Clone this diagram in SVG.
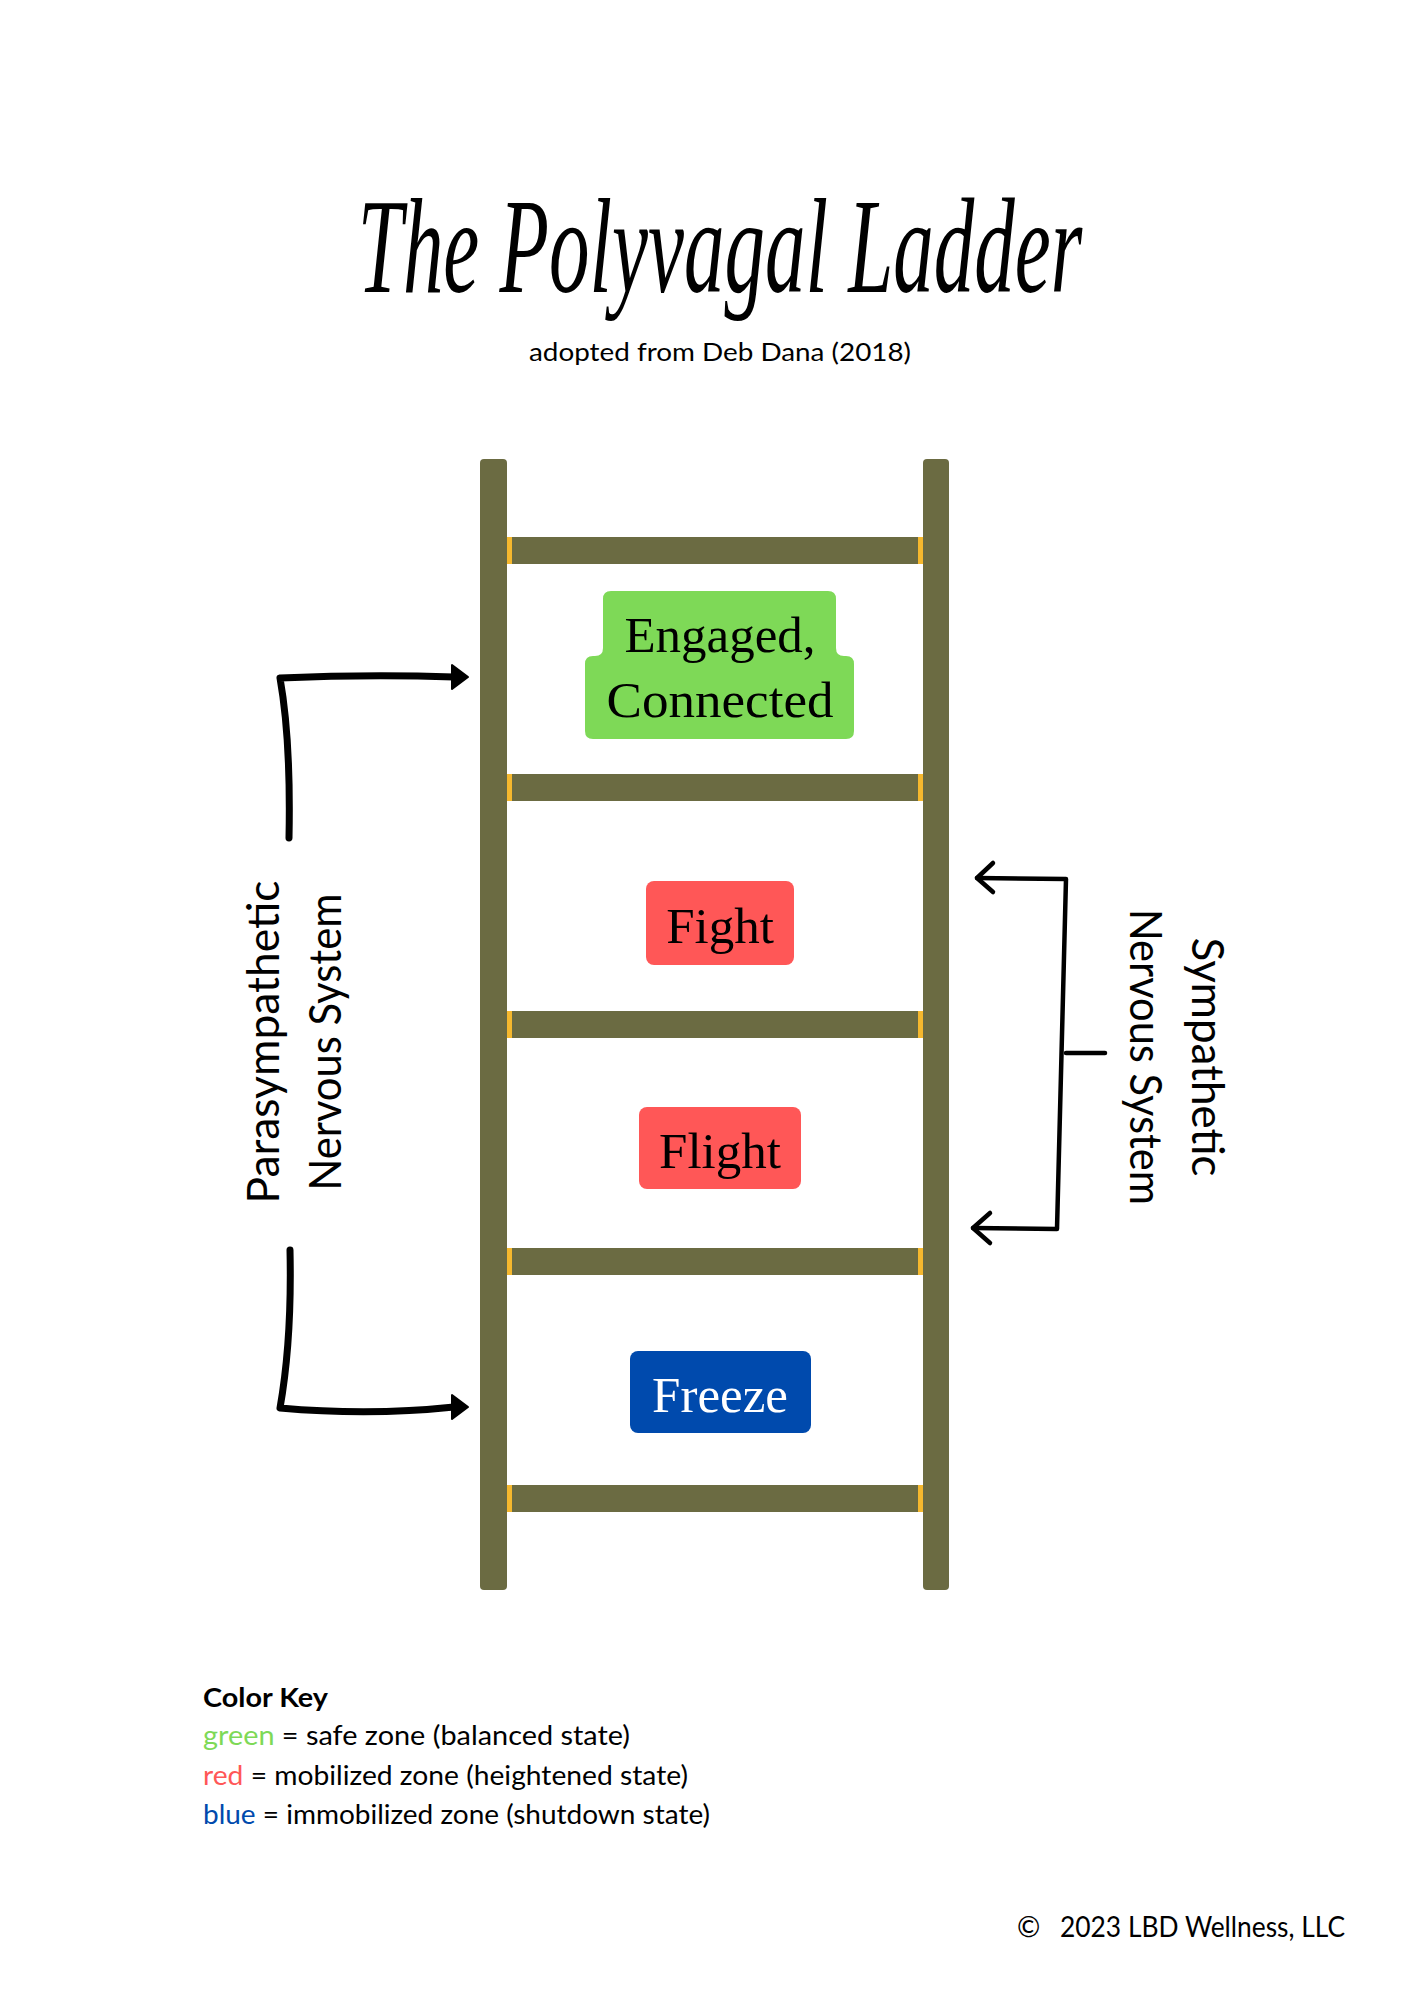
<svg xmlns="http://www.w3.org/2000/svg" width="1414" height="2000" viewBox="0 0 1414 2000">
<style>
.rail{fill:#6b6b42}
.end{fill:#f5b82e}
.lbl{font-family:"Liberation Serif","Times New Roman",serif;font-size:51px;text-anchor:middle}
.sans{font-family:Lato,"Noto Sans","DejaVu Sans",sans-serif}
.side{font-family:Lato,"Noto Sans","DejaVu Sans",sans-serif;font-size:44px;text-anchor:middle;fill:#000}
.thick{fill:none;stroke:#000;stroke-width:7;stroke-linecap:round;stroke-linejoin:round}
.thin{fill:none;stroke:#000;stroke-width:4.5;stroke-linecap:round;stroke-linejoin:round}
.key{font-family:Lato,"Noto Sans","DejaVu Sans",sans-serif;font-size:26px;fill:#000}
</style>
<rect width="1414" height="2000" fill="#ffffff"/>

<g id="title">
<text transform="translate(720,292) scale(0.6,1)" text-anchor="middle" font-family="'Liberation Serif','Times New Roman',serif" font-style="italic" font-size="135" fill="#000">The Polyvagal Ladder</text>
<text x="529" y="361" class="sans" font-size="25" textLength="382" lengthAdjust="spacingAndGlyphs" fill="#000">adopted from Deb Dana (2018)</text>
</g>

<g id="ladder">
<rect class="rail" x="480" y="459" width="27" height="1131" rx="4"/>
<rect class="rail" x="923" y="459" width="26" height="1131" rx="4"/>
<g id="rung1"><rect class="rail" x="507" y="537" width="416" height="27"/><rect class="end" x="507" y="537" width="5" height="27"/><rect class="end" x="918" y="537" width="5" height="27"/></g>
<g id="rung2"><rect class="rail" x="507" y="774" width="416" height="27"/><rect class="end" x="507" y="774" width="5" height="27"/><rect class="end" x="918" y="774" width="5" height="27"/></g>
<g id="rung3"><rect class="rail" x="507" y="1011" width="416" height="27"/><rect class="end" x="507" y="1011" width="5" height="27"/><rect class="end" x="918" y="1011" width="5" height="27"/></g>
<g id="rung4"><rect class="rail" x="507" y="1248" width="416" height="27"/><rect class="end" x="507" y="1248" width="5" height="27"/><rect class="end" x="918" y="1248" width="5" height="27"/></g>
<g id="rung5"><rect class="rail" x="507" y="1485" width="416" height="27"/><rect class="end" x="507" y="1485" width="5" height="27"/><rect class="end" x="918" y="1485" width="5" height="27"/></g>
</g>

<g id="engaged">
<path fill="#7ed957" d="M 611,591 H 828 Q 836,591 836,599 V 648 Q 836,656 844,656 H 846 Q 854,656 854,664 V 731 Q 854,739 846,739 H 593 Q 585,739 585,731 V 664 Q 585,656 593,656 H 595 Q 603,656 603,648 V 599 Q 603,591 611,591 Z"/>
<text class="lbl" x="720" y="652" fill="#000">Engaged,</text>
<text class="lbl" x="720" y="717" fill="#000" textLength="227" lengthAdjust="spacingAndGlyphs">Connected</text>
</g>

<g id="fight">
<rect x="646" y="881" width="148" height="84" rx="8" fill="#ff5757"/>
<text class="lbl" x="720" y="943" fill="#000">Fight</text>
</g>

<g id="flight">
<rect x="639" y="1107" width="162" height="82" rx="8" fill="#ff5757"/>
<text class="lbl" x="720" y="1168" fill="#000">Flight</text>
</g>

<g id="freeze">
<rect x="630" y="1351" width="181" height="82" rx="8" fill="#004aad"/>
<text class="lbl" x="720" y="1412" fill="#ffffff">Freeze</text>
</g>

<g id="parasympathetic">
<text class="side" transform="translate(279,1042) rotate(-90)" textLength="323" lengthAdjust="spacingAndGlyphs">Parasympathetic</text>
<text class="side" transform="translate(341,1042) rotate(-90)" textLength="297" lengthAdjust="spacingAndGlyphs">Nervous System</text>
</g>

<g id="sympathetic">
<text class="side" transform="translate(1192,1057) rotate(90)" textLength="239" lengthAdjust="spacingAndGlyphs">Sympathetic</text>
<text class="side" transform="translate(1130,1057) rotate(90)" textLength="296" lengthAdjust="spacingAndGlyphs">Nervous System</text>
</g>

<g id="connectors">
<path class="thick" d="M 289,838 Q 291,740 280,678 Q 370,674 454,677"/>
<path d="M 468,677 L 452,665 L 452,689 Z" fill="#000" stroke="#000" stroke-width="2" stroke-linejoin="round"/>
<path class="thick" d="M 290,1250 Q 292,1340 280,1408 Q 370,1416 454,1407"/>
<path d="M 468,1407 L 452,1395 L 452,1419 Z" fill="#000" stroke="#000" stroke-width="2" stroke-linejoin="round"/>
<path class="thin" d="M 977,878 L 1066,879 L 1057,1229 L 973,1228"/>
<path class="thin" d="M 1066,1053 L 1105,1053"/>
<path class="thin" d="M 993,863 L 977,878 L 993,892"/>
<path class="thin" d="M 990,1213 L 973,1228 L 990,1243"/>
</g>

<g id="legend">
<text class="key" x="203" y="1707" font-weight="bold" textLength="125" lengthAdjust="spacingAndGlyphs">Color Key</text>
<text class="key" x="203" y="1745" textLength="427" lengthAdjust="spacingAndGlyphs"><tspan fill="#7ed957">green</tspan> = safe zone (balanced state)</text>
<text class="key" x="203" y="1785" textLength="485" lengthAdjust="spacingAndGlyphs"><tspan fill="#ff5757">red</tspan> = mobilized zone (heightened state)</text>
<text class="key" x="203" y="1824" textLength="507" lengthAdjust="spacingAndGlyphs"><tspan fill="#004aad">blue</tspan> = immobilized zone (shutdown state)</text>
</g>

<g id="copyright">
<text class="sans" x="1017" y="1937" font-size="28" fill="#000">©</text>
<text class="sans" x="1060" y="1937" font-size="28" textLength="285" lengthAdjust="spacingAndGlyphs" fill="#000">2023 LBD Wellness, LLC</text>
</g>
</svg>
